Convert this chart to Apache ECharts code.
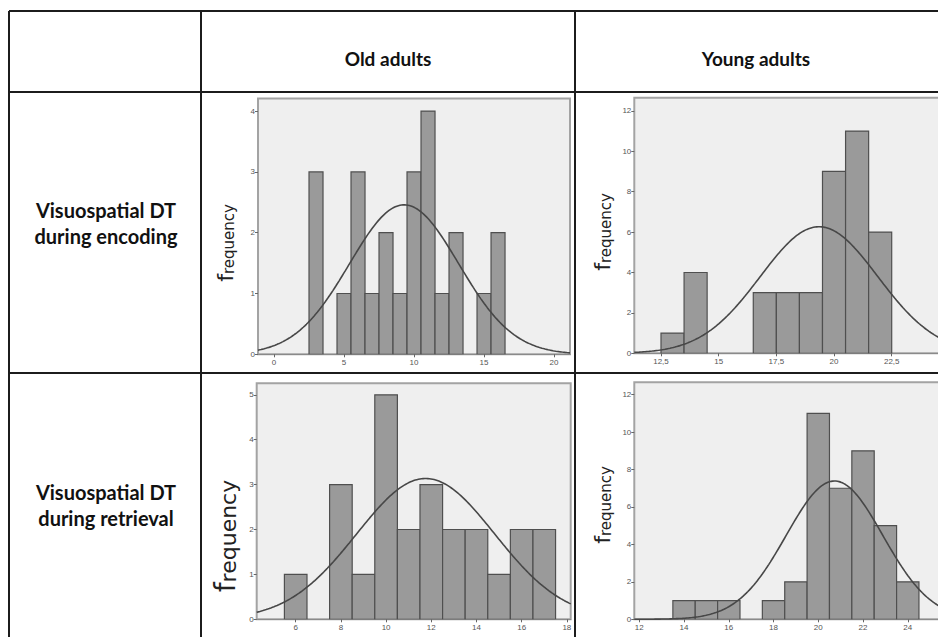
<!DOCTYPE html>
<html>
<head>
<meta charset="utf-8">
<script src="https://cdn.jsdelivr.net/npm/echarts@6/dist/echarts.min.js"></script>
<style>
  html, body { margin: 0; padding: 0; background: #ffffff; }
  #chart { width: 938px; height: 637px; }
</style>
</head>
<body>
<div id="chart"></div>
<script>
// Table headings
const columnTitles = ['Old adults', 'Young adults'];
const rowTitles = [
  ['Visuospatial DT', 'during encoding'],
  ['Visuospatial DT', 'during retrieval']
];
const yAxisTitleFirst = 'f';
const yAxisTitleRest = 'requency';

// Histogram bins (bin centres, width 1) and their frequencies
const oldEncodingBins = [3, 5, 6, 7, 8, 9, 10, 11, 12, 13, 15, 16];
const oldEncodingCounts = [3, 1, 3, 1, 2, 1, 3, 4, 1, 2, 1, 2];

const youngEncodingBins = [13, 14, 17, 18, 19, 20, 21, 22];
const youngEncodingCounts = [1, 4, 3, 3, 3, 9, 11, 6];

const oldRetrievalBins = [6, 8, 9, 10, 11, 12, 13, 14, 15, 16, 17];
const oldRetrievalCounts = [1, 3, 1, 5, 2, 3, 2, 2, 1, 2, 2];

const youngRetrievalBins = [14, 15, 16, 18, 19, 20, 21, 22, 23, 24];
const youngRetrievalCounts = [1, 1, 1, 1, 2, 11, 7, 9, 5, 2];

// Tick values for each panel
const oldEncodingXTicks = [0, 5, 10, 15, 20];
const oldEncodingYTicks = [0, 1, 2, 3, 4];
const youngEncodingXTicks = [12.5, 15, 17.5, 20, 22.5];
const youngEncodingYTicks = [0, 2, 4, 6, 8, 10, 12];
const oldRetrievalXTicks = [6, 8, 10, 12, 14, 16, 18];
const oldRetrievalYTicks = [0, 1, 2, 3, 4, 5];
const youngRetrievalXTicks = [12, 14, 16, 18, 20, 22, 24];
const youngRetrievalYTicks = [0, 2, 4, 6, 8, 10, 12];

const BIN_WIDTH = 1;

// Panel layout: data sources plus plot rectangles and axis extents
const panels = [
  { bins: oldEncodingBins, counts: oldEncodingCounts, xTicks: oldEncodingXTicks, yTicks: oldEncodingYTicks,
    grid: { left: 258, top: 98.5, width: 312, height: 255.8 }, xMin: -1.143, xMax: 21.14, yMax: 4.207,
    title: { x: 225, y: 243, big: 22, small: 15 } },
  { bins: youngEncodingBins, counts: youngEncodingCounts, xTicks: youngEncodingXTicks, yTicks: youngEncodingYTicks,
    grid: { left: 634.3, top: 97.7, width: 325.7, height: 255.6 }, xMin: 11.343, xMax: 25.46, yMax: 12.65,
    title: { x: 602, y: 232, big: 22, small: 15 } },
  { bins: oldRetrievalBins, counts: oldRetrievalCounts, xTicks: oldRetrievalXTicks, yTicks: oldRetrievalYTicks,
    grid: { left: 256.7, top: 383.3, width: 314, height: 236 }, xMin: 4.274, xMax: 18.17, yMax: 5.256,
    title: { x: 225, y: 536, big: 28, small: 22 } },
  { bins: youngRetrievalBins, counts: youngRetrievalCounts, xTicks: youngRetrievalXTicks, yTicks: youngRetrievalYTicks,
    grid: { left: 634.3, top: 382.3, width: 320, height: 237 }, xMin: 11.776, xMax: 26.08, yMax: 12.66,
    title: { x: 602, y: 505, big: 22, small: 15 } }
];

// Normal curve fitted to a histogram (mean and SD taken from the binned counts)
function normalFit(bins, counts, xMin, xMax) {
  let n = 0, s = 0, ss = 0;
  bins.forEach((b, i) => { n += counts[i]; s += b * counts[i]; ss += b * b * counts[i]; });
  const mean = s / n;
  const sd = Math.sqrt((ss - n * mean * mean) / (n - 1));
  const pts = [];
  const steps = 200;
  for (let k = 0; k <= steps; k++) {
    const x = xMin + (xMax - xMin) * k / steps;
    const z = (x - mean) / sd;
    pts.push([x, n * BIN_WIDTH * Math.exp(-0.5 * z * z) / (sd * Math.sqrt(2 * Math.PI))]);
  }
  return pts;
}

const tickLabelStyle = { fontSize: 8, color: '#555', fontFamily: 'Liberation Sans, Arial, sans-serif' };

const grids = [], xAxes = [], yAxes = [], series = [];
panels.forEach((p, i) => {
  grids.push(Object.assign({
    show: true, backgroundColor: '#efefef', borderColor: '#a3a3a3', borderWidth: 2,
    containLabel: false, outerBoundsMode: 'none'
  }, p.grid));
  xAxes.push({
    type: 'value', gridIndex: i, min: p.xMin, max: p.xMax,
    axisLine: { show: true, onZero: false, lineStyle: { color: '#8a8a8a', width: 1 } },
    axisTick: { show: true, length: 3, customValues: p.xTicks, lineStyle: { color: '#666' } },
    axisLabel: Object.assign({ customValues: p.xTicks, margin: 4,
      formatter: v => String(v).replace('.', ',') }, tickLabelStyle),
    splitLine: { show: false }
  });
  yAxes.push({
    type: 'value', gridIndex: i, min: 0, max: p.yMax,
    axisLine: { show: false, onZero: false },
    axisTick: { show: true, length: 3, customValues: p.yTicks, lineStyle: { color: '#666' } },
    axisLabel: Object.assign({ customValues: p.yTicks, margin: 3 }, tickLabelStyle),
    splitLine: { show: false }
  });
  series.push({
    type: 'custom', xAxisIndex: i, yAxisIndex: i,
    data: p.bins.map((b, k) => [b, p.counts[k]]),
    encode: { x: 0, y: 1 },
    clip: true,
    renderItem: (params, api) => {
      const c = api.value(0), h = api.value(1);
      const topLeft = api.coord([c - BIN_WIDTH / 2, h]);
      const bottomRight = api.coord([c + BIN_WIDTH / 2, 0]);
      return {
        type: 'rect',
        shape: { x: topLeft[0], y: topLeft[1], width: bottomRight[0] - topLeft[0], height: bottomRight[1] - topLeft[1] },
        style: { fill: '#9a9a9a', stroke: '#4f4f4f', lineWidth: 1.2 }
      };
    }
  });
  series.push({
    type: 'line', xAxisIndex: i, yAxisIndex: i,
    data: normalFit(p.bins, p.counts, p.xMin, p.xMax),
    showSymbol: false, symbol: 'none', smooth: false, clip: true,
    lineStyle: { color: '#474747', width: 1.6 },
    z: 5
  });
});

// Table rules
const ruleColor = '#1c1c1c';
const ruleWidth = 2;
function rule(x1, y1, x2, y2) {
  return { type: 'line', silent: true, z: 100,
    shape: { x1, y1, x2, y2 }, style: { stroke: ruleColor, lineWidth: ruleWidth } };
}
const graphics = [
  rule(9, 11, 938, 11),
  rule(9, 92, 938, 92),
  rule(9, 373, 938, 373),
  rule(9, 11, 9, 637),
  rule(201, 11, 201, 637),
  rule(575, 11, 575, 637)
];

const headFont = 'Lato, "Open Sans", sans-serif';
graphics.push({ type: 'text', x: 388, y: 58, z: 100,
  style: { text: columnTitles[0], font: 'bold 19px ' + headFont, fill: '#111', align: 'center', verticalAlign: 'middle' } });
graphics.push({ type: 'text', x: 756, y: 58, z: 100,
  style: { text: columnTitles[1], font: 'bold 19px ' + headFont, fill: '#111', align: 'center', verticalAlign: 'middle' } });
[[210, 236], [492, 518]].forEach((ys, r) => {
  rowTitles[r].forEach((line, k) => {
    graphics.push({ type: 'text', x: 106, y: ys[k], z: 100,
      style: { text: line, font: 'bold 20px ' + headFont, fill: '#111', align: 'center', verticalAlign: 'middle' } });
  });
});

// Rotated "frequency" titles with an enlarged first letter
const titleFont = '"DejaVu Sans", sans-serif';
panels.forEach(p => {
  graphics.push({
    type: 'text', x: p.title.x, y: p.title.y, rotation: Math.PI / 2, z: 100,
    style: {
      text: '{a|' + yAxisTitleFirst + '}{b|' + yAxisTitleRest + '}',
      align: 'center', verticalAlign: 'middle', fill: '#222',
      rich: {
        a: { fontSize: p.title.big, fontFamily: titleFont, fontWeight: 'normal', fill: '#222', verticalAlign: 'bottom' },
        b: { fontSize: p.title.small, fontFamily: titleFont, fontWeight: 'normal', fill: '#222', verticalAlign: 'bottom' }
      }
    }
  });
});

const chart = echarts.init(document.getElementById('chart'), null, { renderer: 'svg' });
chart.setOption({
  backgroundColor: '#ffffff',
  animation: false,
  grid: grids,
  xAxis: xAxes,
  yAxis: yAxes,
  series: series,
  graphic: graphics
});
</script>
</body>
</html>
